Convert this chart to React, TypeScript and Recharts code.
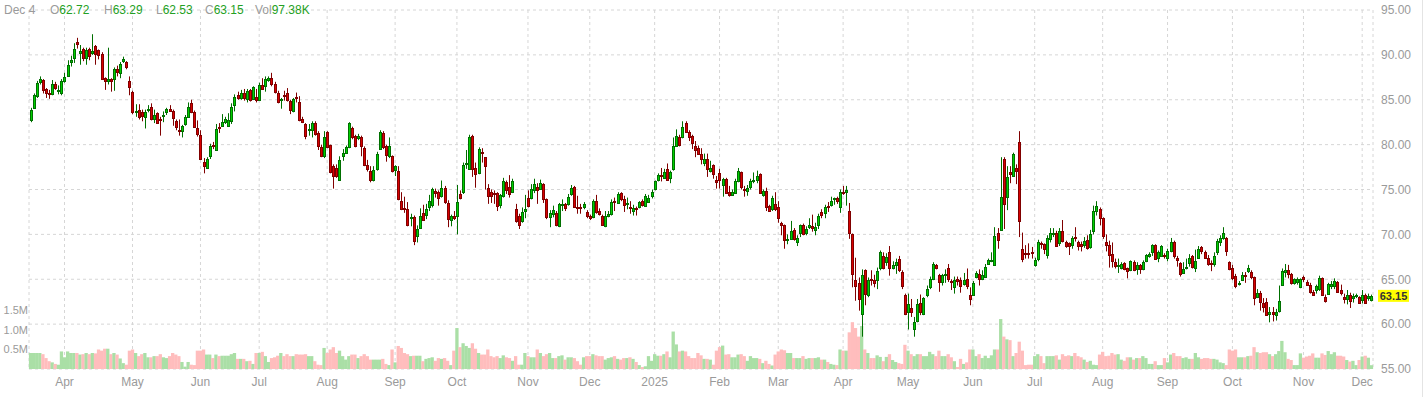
import { Bar, CartesianGrid, ComposedChart, ReferenceLine, XAxis, YAxis } from 'recharts'

// open, high, low, close, volume (thousands)
type Row = [number, number, number, number, number]

const mar24: Row[] = [
  [82.7, 84.1, 82.5, 83.9, 410], [84.1, 85.7, 84.0, 85.5, 410], [85.4, 87.1, 85.2, 86.9, 410], [87.0, 87.6, 86.7, 87.3, 410],
  [87.2, 87.3, 85.7, 86.1, 380], [86.2, 86.3, 85.2, 85.8, 280], [85.8, 86.1, 85.1, 85.6, 200], [85.6, 87.2, 85.5, 86.8, 170],
  [86.8, 87.0, 86.1, 86.3, 130], [86.0, 86.6, 85.6, 86.1, 110], [85.8, 87.3, 85.5, 87.1, 450],
]
const apr24: Row[] = [
  [87.1, 88.0, 86.9, 87.5, 300], [87.7, 89.4, 87.6, 88.9, 450], [89.2, 89.9, 88.7, 89.4, 410], [89.6, 91.3, 89.1, 90.7, 410],
  [91.4, 91.9, 90.7, 91.2, 410], [90.2, 91.1, 88.9, 90.4, 370], [90.7, 90.8, 89.3, 89.6, 380], [89.7, 90.8, 88.9, 90.5, 410],
  [90.6, 90.8, 89.4, 89.9, 380], [90.2, 92.3, 90.0, 90.4, 410], [91.0, 91.1, 88.9, 90.1, 400], [90.5, 90.6, 89.5, 90.0, 500],
  [90.1, 90.3, 87.2, 87.3, 470], [87.4, 87.5, 86.1, 87.1, 520], [87.1, 90.8, 86.7, 87.3, 520], [87.3, 87.4, 85.9, 87.1, 380],
  [87.3, 88.6, 86.0, 88.4, 410], [88.4, 88.8, 87.6, 88.1, 370], [88.0, 89.2, 87.4, 89.0, 270], [89.3, 89.8, 89.1, 89.5, 150],
  [89.2, 89.3, 88.4, 88.6, 110], [87.1, 87.6, 85.5, 86.4, 470],
]
const may24: Row[] = [
  [85.9, 86.0, 83.4, 83.6, 500], [83.6, 84.5, 83.1, 83.8, 410], [83.9, 84.5, 82.8, 83.1, 330], [83.6, 83.9, 82.6, 83.2, 380],
  [83.1, 83.9, 81.8, 83.6, 410], [83.9, 84.4, 83.6, 84.0, 300], [84.2, 84.6, 82.7, 82.8, 300], [82.9, 83.9, 82.4, 83.3, 330],
  [83.5, 83.6, 82.3, 82.4, 330], [82.9, 83.1, 81.0, 82.8, 380], [83.2, 83.7, 82.5, 83.3, 300], [83.6, 84.1, 83.3, 84.0, 280],
  [84.0, 84.4, 83.7, 83.8, 330], [83.8, 83.9, 82.1, 83.0, 410], [82.6, 82.8, 81.6, 82.0, 370], [81.6, 82.8, 81.0, 81.5, 330],
  [81.5, 82.2, 80.8, 82.1, 180], [82.3, 83.3, 82.1, 83.1, 60], [83.1, 84.7, 83.0, 84.2, 180], [84.6, 85.0, 83.5, 83.6, 110],
  [83.6, 83.8, 81.9, 82.0, 100], [81.8, 82.7, 80.9, 81.2, 470],
]
const jun24: Row[] = [
  [81.1, 81.6, 78.3, 78.4, 470], [78.1, 78.5, 76.8, 77.6, 500], [77.4, 78.6, 77.3, 78.4, 370], [78.7, 80.1, 78.4, 79.9, 370],
  [80.0, 80.3, 79.5, 79.8, 280], [79.4, 82.3, 79.4, 81.7, 370], [82.0, 82.4, 81.3, 81.9, 330], [82.1, 83.4, 82.0, 82.5, 340],
  [82.5, 83.1, 82.3, 82.8, 340], [82.1, 83.5, 82.0, 82.7, 340], [82.6, 84.6, 82.3, 84.2, 380], [84.4, 85.6, 83.7, 85.3, 410],
  [85.5, 85.9, 85.0, 85.2, 260], [85.2, 86.1, 85.0, 85.7, 260], [85.7, 86.2, 84.9, 85.2, 260], [85.1, 86.2, 84.7, 86.0, 200],
  [86.1, 86.2, 84.8, 85.0, 210], [85.1, 86.5, 85.0, 86.4, 130], [85.3, 86.2, 84.7, 85.0, 410],
]
const jul24: Row[] = [
  [85.0, 86.9, 84.9, 86.6, 410], [86.6, 87.4, 86.1, 86.2, 440], [86.5, 87.6, 85.9, 87.3, 330], [87.2, 87.6, 87.0, 87.4, 180],
  [87.4, 88.0, 86.5, 86.7, 280], [86.8, 87.0, 85.7, 85.9, 300], [85.7, 86.0, 84.6, 84.7, 340], [85.0, 85.2, 84.0, 85.1, 410],
  [85.5, 86.0, 84.9, 85.4, 330], [85.7, 86.3, 84.8, 85.0, 380], [84.9, 85.0, 83.4, 83.9, 330], [83.8, 85.2, 83.6, 85.1, 330],
  [85.3, 85.8, 84.7, 85.2, 380], [84.7, 85.4, 82.6, 82.7, 370], [82.8, 83.1, 82.4, 82.5, 370], [82.3, 82.4, 80.6, 81.0, 380],
  [81.6, 82.3, 81.0, 81.7, 330], [81.6, 82.6, 80.8, 82.4, 330], [82.4, 82.6, 81.0, 81.2, 200], [81.3, 81.5, 79.4, 79.9, 110],
  [79.7, 80.0, 78.6, 78.7, 100], [78.7, 81.5, 78.5, 80.9, 540],
]
const aug24: Row[] = [
  [81.4, 81.5, 79.6, 79.7, 410], [80.0, 80.0, 76.8, 76.9, 500], [77.6, 77.8, 75.1, 76.5, 560], [77.4, 77.8, 76.3, 76.5, 410],
  [76.1, 78.7, 76.0, 78.3, 470], [78.7, 79.5, 78.2, 79.1, 330], [79.1, 79.9, 79.0, 79.7, 240], [79.7, 82.5, 79.6, 82.4, 330],
  [81.9, 82.0, 80.6, 80.8, 370], [81.0, 81.1, 79.7, 79.9, 370], [80.7, 81.2, 80.5, 81.0, 280], [80.9, 81.0, 78.7, 79.9, 330],
  [79.6, 79.8, 77.6, 77.7, 380], [77.7, 78.3, 77.0, 77.3, 330], [77.1, 77.6, 75.8, 76.1, 240], [76.1, 77.6, 75.9, 77.2, 240],
  [77.3, 79.2, 77.1, 79.0, 240], [79.5, 81.6, 79.4, 81.4, 240], [81.3, 81.5, 79.5, 79.7, 260], [79.9, 80.0, 78.1, 78.8, 130],
  [78.7, 80.8, 78.5, 79.9, 100], [78.7, 78.8, 76.9, 77.1, 500],
]
const sep24: Row[] = [
  [77.2, 77.7, 76.5, 77.6, 170], [77.1, 77.6, 73.8, 73.9, 590], [73.7, 74.7, 72.7, 72.8, 540], [72.9, 74.2, 72.4, 72.8, 410],
  [72.8, 73.6, 70.9, 71.1, 380], [71.8, 72.3, 70.9, 71.9, 330], [71.9, 72.1, 68.8, 69.3, 340], [69.8, 71.0, 69.1, 70.6, 340],
  [70.7, 72.9, 70.6, 72.0, 340], [72.4, 73.3, 71.5, 71.6, 200], [72.2, 73.4, 71.7, 72.8, 260], [73.0, 74.4, 72.6, 73.7, 280],
  [73.3, 75.2, 73.0, 75.0, 300], [74.8, 75.1, 74.1, 74.6, 210], [74.7, 74.9, 73.2, 74.1, 280], [74.3, 76.0, 74.1, 75.2, 260],
  [75.2, 75.4, 73.4, 73.6, 280], [73.5, 73.8, 70.8, 71.7, 210], [71.6, 72.2, 70.9, 72.0, 100], [72.0, 72.6, 71.6, 71.8, 470],
]
const oct24: Row[] = [
  [72.0, 75.5, 70.0, 73.6, 1050], [74.5, 74.9, 73.9, 74.0, 560], [74.7, 78.0, 74.5, 77.7, 660], [77.8, 79.4, 77.3, 78.0, 590],
  [77.3, 81.1, 77.2, 80.9, 540], [81.0, 81.1, 76.4, 77.3, 660], [77.4, 78.0, 75.2, 76.7, 520], [76.8, 79.7, 76.7, 79.5, 410],
  [79.2, 79.6, 78.0, 79.1, 370], [78.6, 78.6, 75.0, 77.6, 370], [75.2, 75.6, 73.4, 74.3, 500], [74.7, 75.0, 73.5, 74.3, 330],
  [74.6, 74.9, 73.4, 74.5, 300], [74.6, 74.7, 72.6, 73.2, 330], [73.3, 74.5, 72.9, 74.4, 280], [74.3, 76.3, 74.1, 76.0, 350],
  [75.8, 76.0, 74.5, 75.0, 300], [75.3, 76.6, 74.1, 74.5, 280], [74.7, 76.2, 74.6, 76.0, 210], [72.8, 73.4, 71.3, 71.5, 330],
  [72.0, 72.3, 70.6, 71.1, 110], [71.5, 73.0, 71.3, 72.5, 110], [72.6, 74.4, 71.8, 72.8, 410],
]
const nov24: Row[] = [
  [74.1, 74.9, 73.0, 73.2, 330], [74.1, 75.6, 73.9, 75.1, 300], [75.0, 76.2, 74.6, 75.6, 300], [75.3, 75.7, 73.4, 75.0, 500],
  [75.1, 76.1, 75.0, 75.7, 410], [75.6, 75.7, 73.5, 73.9, 330], [73.9, 74.0, 71.7, 71.9, 380], [71.9, 72.7, 70.8, 72.4, 410],
  [72.3, 73.2, 71.9, 72.7, 280], [72.4, 72.6, 70.9, 71.0, 280], [70.9, 73.5, 70.8, 73.4, 330], [73.3, 73.9, 72.6, 73.4, 350],
  [73.4, 73.5, 72.6, 72.9, 240], [73.4, 74.5, 73.2, 74.2, 300], [74.5, 75.5, 74.3, 75.2, 300], [75.3, 75.4, 73.0, 73.1, 280],
  [73.0, 74.3, 72.3, 72.9, 200], [73.0, 73.4, 72.3, 72.9, 110], [73.0, 73.6, 72.8, 73.4, 300], [72.5, 72.7, 71.8, 72.0, 330],
]
const dec24: Row[] = [
  [72.0, 72.2, 71.6, 71.8, 330], [71.9, 73.9, 71.8, 73.7, 380], [73.7, 74.4, 72.3, 72.5, 350], [72.6, 72.9, 72.1, 72.3, 330],
  [72.1, 72.2, 71.0, 71.1, 330], [70.9, 72.6, 70.8, 72.1, 240], [72.0, 72.6, 71.9, 72.3, 280], [72.3, 73.9, 72.1, 73.6, 300],
  [73.7, 74.1, 72.6, 73.6, 330], [73.5, 74.7, 73.4, 74.5, 260], [74.6, 74.7, 73.7, 73.9, 240], [73.9, 74.3, 72.5, 73.3, 280],
  [73.4, 74.1, 72.8, 73.5, 280], [73.0, 73.7, 72.3, 72.9, 300], [72.6, 73.3, 72.1, 72.9, 260], [72.9, 73.1, 72.1, 72.8, 180],
  [73.1, 73.7, 72.9, 73.6, 100], [73.7, 73.9, 73.1, 73.3, 50], [73.2, 74.5, 73.1, 74.3, 70], [73.6, 74.4, 73.5, 74.0, 330],
  [74.3, 75.0, 74.0, 74.7, 210],
]
const jan25: Row[] = [
  [75.0, 76.0, 74.9, 75.9, 380], [76.1, 76.8, 75.9, 76.6, 340], [76.6, 77.4, 75.9, 76.5, 340], [76.3, 77.3, 76.2, 77.0, 380],
  [77.3, 77.9, 76.0, 76.1, 450], [76.3, 77.1, 75.7, 76.9, 300], [77.3, 80.8, 77.1, 79.8, 960], [79.9, 81.7, 79.8, 81.0, 630],
  [80.9, 81.1, 79.8, 80.0, 450], [80.8, 82.6, 80.7, 82.0, 470], [82.4, 82.6, 81.3, 81.4, 450], [81.4, 81.6, 80.4, 80.9, 330],
  [81.0, 81.1, 79.5, 80.2, 280], [79.9, 80.4, 78.6, 79.4, 280], [79.6, 79.9, 78.9, 79.0, 410], [78.9, 79.6, 77.8, 78.4, 350],
  [78.0, 79.0, 77.6, 78.4, 260], [78.4, 79.0, 76.4, 77.3, 260], [77.1, 78.2, 76.9, 77.4, 240], [77.7, 77.8, 76.2, 76.7, 110],
  [76.1, 76.5, 75.1, 75.8, 470],
]
const feb25: Row[] = [
  [76.8, 77.3, 75.1, 76.1, 560], [75.5, 76.3, 74.2, 76.2, 600], [76.2, 76.3, 74.5, 74.6, 370], [74.7, 75.4, 74.2, 74.4, 380],
  [74.4, 75.0, 74.3, 74.7, 300], [74.6, 76.2, 74.5, 75.9, 300], [75.9, 77.4, 75.8, 77.1, 370], [76.9, 77.0, 75.0, 75.3, 380],
  [75.1, 75.4, 74.2, 75.0, 330], [74.8, 75.5, 74.3, 75.2, 210], [75.3, 76.2, 75.0, 75.9, 330], [75.9, 76.9, 75.7, 76.1, 280],
  [76.1, 77.1, 75.7, 76.5, 280], [76.7, 76.8, 74.5, 74.6, 260], [74.4, 75.0, 74.2, 74.8, 150], [74.8, 75.2, 72.6, 73.1, 210],
  [73.2, 73.3, 72.5, 72.6, 130], [72.8, 74.3, 72.6, 74.0, 90], [73.4, 74.7, 72.6, 72.8, 370],
]
const mar25: Row[] = [
  [73.0, 73.7, 71.3, 71.8, 450], [71.3, 71.4, 69.9, 71.1, 500], [71.0, 71.1, 68.4, 69.4, 480], [69.4, 70.0, 68.9, 69.5, 410],
  [69.5, 71.5, 69.4, 70.4, 410], [70.5, 70.7, 69.3, 69.5, 280], [69.1, 69.9, 68.7, 69.6, 280], [70.1, 71.1, 69.7, 71.0, 280],
  [71.0, 71.2, 69.9, 70.0, 330], [70.2, 70.9, 69.9, 70.6, 260], [70.8, 71.8, 70.6, 71.0, 280], [70.9, 72.2, 70.3, 70.7, 280],
  [70.5, 71.3, 69.9, 70.8, 280], [71.0, 72.3, 70.6, 72.0, 300], [72.5, 72.8, 71.8, 72.2, 240], [72.4, 73.3, 71.8, 73.0, 240],
  [73.2, 73.6, 72.5, 73.1, 180], [73.3, 74.2, 73.1, 73.7, 130], [73.9, 74.1, 73.3, 74.0, 110], [74.0, 74.2, 73.4, 73.7, 100],
  [73.0, 75.0, 72.4, 74.7, 500],
]
const apr25: Row[] = [
  [74.7, 75.4, 74.4, 74.6, 470], [74.7, 75.4, 73.2, 75.0, 470], [72.6, 73.5, 69.5, 70.2, 940], [70.0, 70.1, 64.1, 65.6, 1200],
  [64.9, 67.4, 62.6, 64.2, 1050], [64.6, 65.2, 61.5, 62.8, 830], [61.1, 66.1, 58.6, 65.5, 1100], [66.0, 66.1, 62.1, 63.4, 500],
  [63.2, 65.2, 63.0, 64.9, 410], [65.0, 66.0, 64.3, 64.9, 280], [64.9, 65.5, 64.1, 64.6, 280], [64.9, 66.3, 63.9, 65.9, 350],
  [66.3, 68.2, 66.0, 68.0, 310], [67.6, 68.0, 66.1, 66.3, 200], [66.9, 67.9, 66.5, 67.5, 310], [68.0, 68.7, 65.4, 66.2, 380],
  [66.2, 67.0, 66.1, 66.6, 230], [66.6, 67.3, 65.6, 66.9, 180], [67.3, 67.6, 65.8, 66.0, 150], [65.8, 66.0, 63.9, 64.3, 130],
  [63.2, 63.4, 61.0, 61.1, 620],
]
const may25: Row[] = [
  [61.3, 63.4, 59.4, 62.2, 470], [61.8, 62.8, 60.8, 61.4, 380], [59.5, 60.8, 58.6, 60.2, 330], [60.4, 62.8, 60.2, 62.2, 380],
  [62.4, 63.3, 61.0, 61.3, 380], [61.1, 63.0, 61.0, 62.9, 330], [63.2, 64.3, 63.0, 63.9, 330], [64.1, 65.3, 63.9, 65.0, 440],
  [65.0, 66.9, 64.9, 66.7, 380], [66.6, 66.7, 66.1, 66.2, 330], [65.5, 65.6, 63.6, 64.7, 470], [64.7, 65.6, 64.3, 65.5, 330],
  [65.5, 66.1, 64.6, 65.6, 330], [66.2, 66.7, 64.7, 65.0, 380], [64.8, 65.0, 63.8, 64.7, 300], [64.1, 65.3, 63.4, 64.9, 200],
  [65.0, 65.3, 64.3, 64.8, 50], [64.9, 65.2, 63.5, 64.2, 260], [64.5, 65.7, 64.3, 64.9, 130], [65.0, 66.2, 63.9, 64.2, 170],
  [63.3, 64.1, 62.1, 62.8, 500],
]
const jun25: Row[] = [
  [63.3, 64.8, 63.2, 64.6, 500], [65.2, 65.9, 65.1, 65.7, 330], [65.6, 66.1, 64.3, 65.0, 380], [65.0, 66.0, 64.9, 65.5, 280],
  [65.3, 66.7, 65.2, 66.4, 340], [66.7, 67.3, 66.6, 67.1, 280], [67.0, 68.0, 66.9, 67.2, 350], [66.6, 70.8, 66.5, 69.8, 500],
  [70.2, 70.7, 68.4, 69.4, 500], [70.5, 78.6, 70.4, 74.2, 1280], [78.4, 78.6, 70.6, 73.4, 830], [74.2, 77.6, 72.7, 76.4, 760],
  [77.0, 77.6, 75.7, 76.7, 740], [76.5, 79.1, 76.4, 78.9, 330], [77.4, 77.8, 75.6, 77.1, 410], [80.3, 81.5, 69.7, 71.5, 700],
  [68.4, 70.2, 66.9, 67.3, 470], [67.9, 68.8, 67.3, 67.8, 100], [67.9, 69.0, 67.3, 67.8, 110], [68.0, 68.6, 67.3, 67.9, 110],
]
const jul25: Row[] = [
  [66.6, 67.4, 66.4, 67.1, 330], [67.3, 69.4, 67.0, 69.2, 380], [69.0, 69.2, 68.4, 68.9, 330], [68.9, 69.0, 67.8, 68.4, 150],
  [67.7, 69.9, 67.3, 69.6, 330], [69.5, 70.7, 69.1, 70.1, 330], [70.0, 70.7, 69.7, 70.2, 330], [70.1, 70.4, 68.6, 68.7, 350],
  [69.0, 70.7, 68.7, 70.4, 240], [70.4, 71.6, 69.1, 69.3, 380], [69.1, 69.3, 68.5, 68.7, 330], [69.0, 69.1, 67.7, 68.7, 350],
  [68.8, 69.8, 68.4, 69.6, 330], [69.7, 70.8, 69.2, 69.6, 410], [69.1, 69.3, 68.2, 68.7, 330], [68.9, 69.2, 68.1, 68.7, 300],
  [68.8, 69.7, 68.5, 69.3, 240], [69.4, 69.9, 68.3, 68.5, 180], [68.6, 70.5, 68.4, 70.0, 210], [70.4, 73.2, 70.0, 72.6, 110],
  [72.6, 73.7, 72.1, 73.2, 100], [72.8, 73.0, 71.0, 71.8, 370],
]
const aug25: Row[] = [
  [71.8, 71.9, 69.5, 69.8, 440], [69.2, 70.0, 68.1, 68.8, 330], [68.8, 69.3, 66.3, 67.7, 340], [67.8, 69.1, 66.3, 67.0, 410],
  [66.9, 67.3, 66.2, 66.5, 370], [66.5, 67.3, 65.7, 66.6, 380], [66.3, 66.9, 66.1, 66.7, 240], [66.8, 66.9, 66.0, 66.1, 210],
  [66.2, 66.3, 65.1, 65.9, 300], [66.0, 67.1, 65.9, 67.0, 300], [66.9, 67.1, 65.9, 66.0, 240], [66.1, 66.9, 65.5, 66.6, 280],
  [66.6, 66.7, 65.6, 66.1, 280], [66.1, 67.1, 66.0, 66.9, 330], [67.0, 67.8, 66.9, 67.7, 280], [67.6, 68.0, 67.4, 67.8, 130],
  [68.0, 68.9, 67.6, 68.8, 130], [68.8, 68.9, 67.2, 67.3, 200], [67.4, 68.2, 66.9, 68.0, 100], [67.6, 68.8, 67.5, 68.7, 100],
  [67.7, 67.9, 67.3, 67.6, 280],
]
const sep25: Row[] = [
  [67.4, 68.4, 67.0, 68.2, 170], [68.2, 69.6, 68.0, 69.1, 370], [69.2, 69.3, 67.3, 67.6, 410], [67.4, 67.6, 66.4, 67.1, 330],
  [66.8, 66.9, 65.3, 65.6, 330], [65.7, 66.9, 65.6, 66.1, 280], [66.3, 67.3, 66.1, 66.4, 300], [66.8, 67.8, 66.4, 67.4, 260],
  [67.6, 67.7, 66.2, 66.4, 260], [66.3, 68.3, 65.8, 67.0, 410], [67.4, 68.7, 67.3, 68.4, 300], [68.6, 68.7, 67.8, 68.1, 260],
  [68.0, 68.2, 67.3, 67.4, 280], [67.4, 67.7, 66.5, 66.7, 280], [66.8, 67.1, 65.9, 66.7, 260], [66.7, 68.0, 66.4, 67.6, 260],
  [68.0, 69.5, 67.7, 69.3, 240], [69.1, 69.9, 68.7, 69.6, 170], [69.6, 70.8, 69.4, 70.1, 150], [69.6, 69.7, 67.6, 68.1, 100],
  [66.9, 67.0, 66.0, 66.1, 500],
]
const oct25: Row[] = [
  [66.2, 66.6, 64.9, 65.1, 470], [65.4, 65.6, 64.0, 64.2, 500], [64.5, 64.8, 64.3, 64.6, 300], [64.9, 65.8, 64.8, 65.5, 300],
  [65.5, 65.8, 64.6, 65.4, 300], [65.9, 66.6, 65.7, 66.2, 330], [65.8, 66.0, 65.0, 65.2, 340], [65.2, 65.3, 62.1, 62.9, 560],
  [63.0, 63.9, 62.9, 63.5, 430], [63.5, 63.7, 61.5, 62.5, 410], [62.4, 62.9, 61.3, 61.9, 430], [62.5, 62.9, 61.0, 61.0, 430],
  [61.1, 61.9, 60.2, 61.4, 380], [61.3, 61.9, 60.3, 61.1, 330], [61.0, 61.7, 60.4, 61.4, 380], [61.5, 64.3, 61.3, 62.6, 460],
  [64.4, 66.2, 64.3, 65.9, 720], [65.8, 66.7, 65.2, 66.0, 430], [66.0, 66.6, 65.1, 65.6, 260], [65.6, 65.7, 64.4, 64.6, 230],
  [64.6, 65.1, 64.4, 65.0, 100], [64.7, 65.2, 64.4, 65.0, 100], [64.1, 65.1, 64.0, 65.0, 400],
]
const nov25: Row[] = [
  [65.2, 65.4, 64.7, 65.0, 290], [64.7, 64.9, 64.3, 64.4, 320], [64.4, 64.6, 63.4, 63.6, 340], [63.6, 63.8, 63.2, 63.3, 400],
  [63.8, 64.4, 63.4, 64.2, 290], [63.9, 65.4, 63.7, 65.1, 290], [65.1, 65.2, 63.2, 63.3, 400], [63.0, 63.3, 62.4, 62.6, 360],
  [63.4, 64.6, 63.3, 64.5, 460], [64.2, 64.8, 63.9, 64.5, 380], [64.2, 65.1, 63.9, 64.8, 430], [64.7, 64.8, 63.5, 63.6, 340],
  [63.8, 64.4, 63.2, 63.5, 340], [63.0, 63.4, 62.3, 62.8, 320], [62.8, 63.8, 62.2, 63.3, 230], [63.3, 63.5, 61.8, 62.6, 190],
  [62.9, 63.4, 62.4, 63.1, 210], [63.1, 63.4, 62.9, 63.3, 100], [63.0, 63.1, 62.3, 62.4, 230],
]
const dec25: Row[] = [
  [62.7, 63.8, 62.3, 63.2, 320], [63.3, 63.4, 62.3, 62.4, 340], [62.9, 63.4, 62.6, 63.1, 290], [62.72, 63.29, 62.53, 63.15, 97.38],
]

const monthRows = [mar24, apr24, may24, jun24, jul24, aug24, sep24, oct24, nov24, dec24, jan25, feb25, mar25, apr25, may25, jun25, jul25, aug25, sep25, oct25, nov25, dec25]
const monthLabels = ['', 'Apr', 'May', 'Jun', 'Jul', 'Aug', 'Sep', 'Oct', 'Nov', 'Dec', '2025', 'Feb', 'Mar', 'Apr', 'May', 'Jun', 'Jul', 'Aug', 'Sep', 'Oct', 'Nov', 'Dec']
const priceTicks = [55, 60, 65, 70, 75, 80, 85, 90, 95]
const volTicks = [500, 1000, 1500]
const lastDate = 'Dec 4'

const data = monthRows.flatMap((rows, m) =>
  rows.map(([o, h, l, c, v], i) => ({ k: `${m}-${i}`, o, h: Math.max(h, o, c), l: Math.min(l, o, c), c, v })),
)
const tickKeys = monthLabels.map((lab, m) => (lab ? `${m}-0` : '')).filter(Boolean)
const labelOf = (k: string) => monthLabels[Number(String(k).split('-')[0])] ?? ''
const last = data[data.length - 1]

const UP = '#00cf00'
const UP_DARK = '#006f00'
const DOWN = '#d80000'
const DOWN_DARK = '#800000'
const AXIS_TEXT = '#9a9a9a'
const VALUE_GREEN = '#23a023'
const FONT = "'Liberation Sans', Arial, sans-serif"

function Candle(props: any) {
  const { x, y, width, height, payload } = props
  if (!payload || height == null) return null
  const { o, h, l, c } = payload
  const up = c >= o
  const cx = Math.round(x + width / 2) + 0.5
  const k = h > l ? height / (h - l) : 0
  const top = Math.round(y + (h - Math.max(o, c)) * k) + 0.5
  const bot = Math.round(y + (h - Math.min(o, c)) * k) + 0.5
  const dark = up ? UP_DARK : DOWN_DARK
  return (
    <g>
      <line x1={cx} x2={cx} y1={y} y2={y + height} stroke={dark} strokeWidth={1} />
      <rect x={cx - 1} y={top} width={2} height={Math.max(bot - top, 1)} fill={up ? UP : DOWN} stroke={dark} strokeWidth={1} />
    </g>
  )
}

function VolBar(props: any) {
  const { x, y, width, height, payload } = props
  if (!payload || !height) return null
  const up = payload.c >= payload.o
  return <rect x={x - 0.1} y={y} width={width + 0.3} height={height} fill={up ? '#aadfa6' : '#ffbdbd'} />
}

function PriceTag(props: any) {
  const vb = props.viewBox || {}
  const x = vb.x + vb.width + 5
  const y = vb.y
  return (
    <g>
      <rect x={x} y={y - 6} width={31} height={12} fill="#ffff00" />
      <text x={x + 15.5} y={y + 4} textAnchor="middle" fontSize={11} fontWeight="bold" fill="#333">
        {last.c.toFixed(2)}
      </text>
    </g>
  )
}

// header: label, value, left position
const header: [string, string, number][] = [
  ['O', last.o.toFixed(2), 50],
  ['H', last.h.toFixed(2), 104],
  ['L', last.l.toFixed(2), 156],
  ['C', last.c.toFixed(2), 205],
  ['Vol', `${last.v.toFixed(2)}K`, 255],
]

export default function App() {
  return (
    <div style={{ position: 'absolute', left: 0, top: 0, width: 1427, height: 397, background: '#fff', fontFamily: FONT }}>
      <ComposedChart width={1427} height={397} data={data} margin={{ top: 10, right: 0, bottom: 0, left: 0 }} barCategoryGap={0} barGap={0}>
        <CartesianGrid xAxisId="main" yAxisId="price" stroke="#d6d6d6" strokeDasharray="3 3" />
        <XAxis
          xAxisId="main"
          dataKey="k"
          ticks={tickKeys}
          interval={0}
          tickFormatter={labelOf}
          axisLine={false}
          tickLine={false}
          height={28}
          tick={{ fontSize: 12, fill: AXIS_TEXT }}
        />
        <XAxis xAxisId="vol" dataKey="k" hide />
        <YAxis
          yAxisId="price"
          orientation="right"
          domain={[55, 95]}
          ticks={priceTicks}
          allowDataOverflow
          width={54}
          axisLine={false}
          tickLine={false}
          tick={{ fontSize: 12, fill: AXIS_TEXT }}
          tickFormatter={(v: number) => v.toFixed(2)}
        />
        <YAxis
          yAxisId="vol"
          orientation="left"
          domain={[0, 9200]}
          ticks={volTicks}
          allowDataOverflow
          width={29}
          axisLine={false}
          tickLine={false}
          tickSize={0}
          tickMargin={1}
          tick={{ fontSize: 11, fill: AXIS_TEXT }}
          tickFormatter={(v: number) => `${(v / 1000).toFixed(1)}M`}
        />
        <Bar xAxisId="vol" yAxisId="vol" dataKey="v" shape={<VolBar />} isAnimationActive={false} />
        <Bar xAxisId="main" yAxisId="price" dataKey={(d: any) => [d.l, d.h]} shape={<Candle />} isAnimationActive={false} />
        <ReferenceLine xAxisId="main" yAxisId="price" y={last.c} stroke="none" ifOverflow="visible" label={(p: any) => <PriceTag {...p} />} />
      </ComposedChart>
      <div style={{ position: 'absolute', left: 0, top: 3, fontSize: 12, color: AXIS_TEXT, whiteSpace: 'nowrap', lineHeight: '14px' }}>
        <span style={{ position: 'absolute', left: 4 }}>{lastDate}</span>
        {header.map(([name, val, left]) => (
          <span key={name} style={{ position: 'absolute', left }}>
            {name}
            <span style={{ color: VALUE_GREEN }}>{val}</span>
          </span>
        ))}
      </div>
      <div style={{ position: 'absolute', left: 1422, top: 0, width: 1, height: 397, background: '#e4e4e4' }} />
    </div>
  )
}
